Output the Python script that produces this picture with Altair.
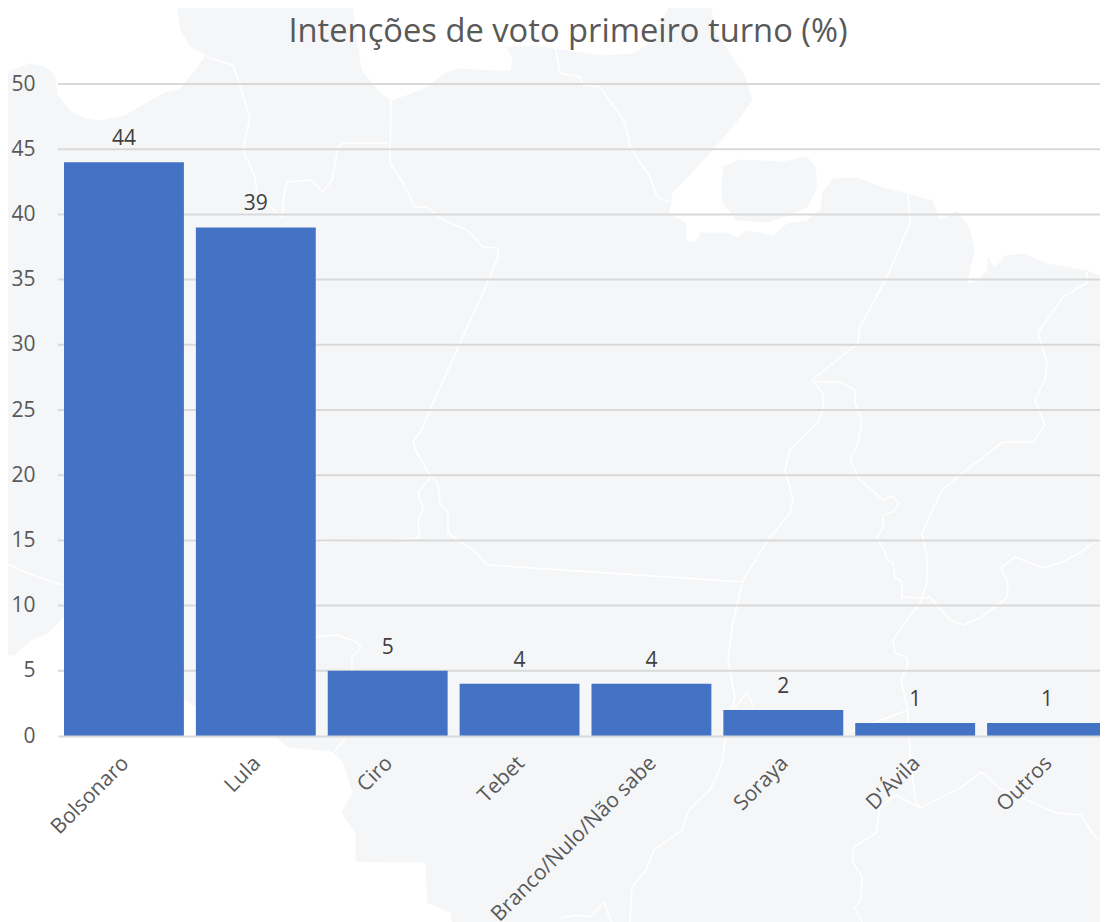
import altair as alt
import pandas as pd

categories = ["Bolsonaro", "Lula", "Ciro", "Tebet", "Branco/Nulo/Não sabe", "Soraya", "D'Ávila", "Outros"]
values = [44, 39, 5, 4, 4, 2, 1, 1]
grid_values = [5, 10, 15, 20, 25, 30, 35, 40, 45, 50]
tick_values = [0, 5, 10, 15, 20, 25, 30, 35, 40, 45, 50]

# Faint map behind the chart: outlines, in map units
sea_northwest = [(-20,-20),(-20,90),(0,85),(10,70),(30,63),(45,66),(55,75),(58,95),(70,110),(85,118),(100,120),(125,115),(150,100),(165,92),(180,88),(195,70),(205,55),(190,47),(180,30),(175,0),(172,-20)]
sea_north = [(350,-20),(352,0),(358,40),(362,70),(380,92),(392,100),(425,88),(445,72),(460,68),(490,70),(510,70),(512,58),(505,47),(533,45),(567,50),(600,55),(633,53),(650,43),(667,10),(672,-20)]
sea_northeast = [(708,-20),(710,0),(717,33),(733,57),(745,75),(753,100),(735,125),(713,150),(695,170),(673,193),(670,213),(673,215),(687,223),(687,240),(695,242),(700,232),(727,232),(737,237),(747,230),(773,235),(787,223),(807,220),(820,210),(822,193),(833,178),(857,177),(883,187),(907,193),(933,200),(940,220),(957,210),(970,228),(975,250),(968,283),(978,280),(987,270),(987,255),(995,267),(1005,255),(1023,253),(1047,263),(1087,270),(1108,278),(1130,285),(1130,-20)]
sea_southwest = [(-20,645),(0,650),(5,656),(14,656),(32,640),(46,635),(59,623),(64,617),(184,700),(196,708),(275,737),(289,748),(332,752),(343,763),(352,793),(341,813),(355,833),(355,862),(386,863),(425,863),(427,903),(450,913),(454,940),(-20,940)]
island = [(723,167),(740,160),(783,162),(807,157),(815,167),(817,187),(807,207),(783,217),(767,222),(737,220),(723,203),(722,183)]

border_a = [(207,57),(233,65),(238,80),(250,117),(243,150),(255,177),(257,193),(277,213),(283,217),(283,200),(287,182),(310,180),(323,192),(332,180),(338,147),(343,143),(388,143)]
border_b = [(391,100),(390,163),(403,183),(415,207),(427,207),(443,220),(467,230),(483,247),(498,248),(498,257),(483,293),(460,343),(430,410),(423,427),(413,442),(417,453),(430,475),(438,483),(440,503),(448,512),(448,533),(457,540),(473,550),(487,565),(743,582)]
border_c = [(430,477),(418,493),(423,508),(418,523),(420,537),(413,539),(320,542)]
border_d = [(555,45),(560,73),(580,77),(583,85),(600,87),(620,115),(625,123),(630,147),(650,177),(657,197),(670,202)]
border_e = [(908,195),(910,223),(887,277),(860,327),(858,343),(812,380),(823,393),(823,410),(817,423),(790,450),(785,470),(793,500),(790,513),(770,537),(743,580),(732,627),(728,660),(731,677),(735,697),(726,735),(721,767),(710,790),(689,810),(682,830),(654,850),(646,870),(632,887),(630,922)]
border_f = [(812,382),(840,382),(855,390),(855,403),(862,420),(858,443),(850,460),(860,480),(883,500),(892,496),(899,503),(893,512),(883,515),(883,528),(877,537),(885,552),(887,560),(893,563),(895,577),(902,582),(902,597),(920,598),(930,597),(950,620),(963,625),(980,618),(1007,598),(1008,583),(1001,568),(1015,557),(1043,568),(1060,563),(1080,553),(1108,532)]
border_g = [(1087,272),(1087,283),(1063,297),(1038,333),(1047,363),(1045,380),(1035,400),(1045,425),(1033,442),(1003,442),(960,475),(942,490),(922,533),(927,557),(927,583),(920,603),(907,620),(893,640),(895,653),(907,657),(908,665),(901,680),(908,710),(910,750),(915,800),(920,808),(962,787),(981,772),(1000,788),(1015,795),(1056,813),(1081,815),(1095,837),(1108,842)]
border_h = [(920,808),(896,795),(880,807),(876,833),(854,847),(852,860),(862,877),(861,900),(855,908),(862,922)]
border_i = [(1103,282),(1105,307),(1108,333)]
border_j = [(316,637),(336,635),(357,642),(361,648),(352,657),(352,670),(345,738),(334,752)]
border_k = [(735,707),(747,693),(754,707)]
border_l = [(560,918),(577,915),(590,917),(604,902),(611,922)]
border_m = [(0,560),(20,570),(40,578),(63,585)]
border_n = [(850,732),(889,717),(908,710)]


def outline(named):
    return pd.DataFrame(
        [{"shape": k, "i": i, "mx": p[0], "my": p[1]} for k, pts in named.items() for i, p in enumerate(pts)]
    )


sea = outline({"a": sea_northwest, "b": sea_north, "c": sea_northeast, "d": sea_southwest})
land = outline({"a": island})
borders = outline({"a": border_a, "b": border_b, "c": border_c, "d": border_d, "e": border_e, "f": border_f, "g": border_g,
                   "h": border_h, "i": border_i, "j": border_j, "k": border_k, "l": border_l, "m": border_m, "n": border_n})

MAP_X = alt.X("mx:Q", axis=None, scale=alt.Scale(domain=[58, 1100], range=[0, 1042], nice=False, zero=False))
MAP_Y = alt.Y("my:Q", axis=None, scale=alt.Scale(domain=[84, 736], range=[0, 652], nice=False, zero=False))


def map_layer(df, **mark):
    return alt.Chart(df).mark_line(**mark).encode(x=MAP_X, y=MAP_Y, detail="shape:N", order="i:Q")


map_part = alt.layer(
    map_layer(sea, fill="#ffffff", stroke="#ffffff", strokeWidth=1),
    map_layer(land, fill="#f5f6f8", stroke="#f5f6f8", strokeWidth=1),
    map_layer(borders, stroke="#ffffff", strokeWidth=1.6, strokeJoin="round"),
)

df = pd.DataFrame({"c": categories, "v": values})
X = alt.X(
    "c:N", sort=categories, title=None,
    scale=alt.Scale(domain=categories, range=[0, 1055], paddingInner=0.0909, paddingOuter=0.0455),
    axis=alt.Axis(orient="bottom", zindex=1, labelAngle=-45, labelFontSize=21, labelColor="#595959", labelFont="Open Sans",
                  labelOverlap=False, labelLimit=400, labelPadding=16, labelOffset=-6, ticks=False,
                  domainColor="#D9D9D9", domainWidth=2, grid=False),
)
Y = alt.Y(
    "v:Q", title=None, scale=alt.Scale(domain=[0, 50], nice=False),
    axis=alt.Axis(orient="left", zindex=1, values=tick_values, labelFontSize=21, labelColor="#595959", labelFont="Open Sans",
                  ticks=False, domain=False, grid=False, labelPadding=23),
)

rules = alt.Chart(pd.DataFrame({"v": grid_values})).mark_rule(color="#D9D9D9", strokeWidth=2).encode(y=Y)
bars = alt.Chart(df).mark_bar(color="#4472C4").encode(x=X, y=Y)
labels = alt.Chart(df).mark_text(baseline="bottom", dy=-13, fontSize=21, font="Open Sans", color="#404040").encode(
    x=alt.X("c:N", sort=categories), y="v:Q", text="v:Q"
)
chart_part = alt.layer(rules, bars, labels)

chart = alt.layer(map_part, chart_part).resolve_scale(x="independent", y="independent").properties(
    width=1042, height=652, background="#f5f6f8",
    padding={"left": 50, "top": 76, "right": 0, "bottom": 186},
    autosize=alt.AutoSizeParams(type="none"),
    title=alt.TitleParams("Intenções de voto primeiro turno (%)", fontSize=32.7, fontWeight="normal", font="Open Sans",
                          color="#595959", anchor="middle", dx=-11, offset=-71),
).configure_view(stroke=None)

chart.save("out.html", embed_options={"renderer": "svg", "actions": False})
